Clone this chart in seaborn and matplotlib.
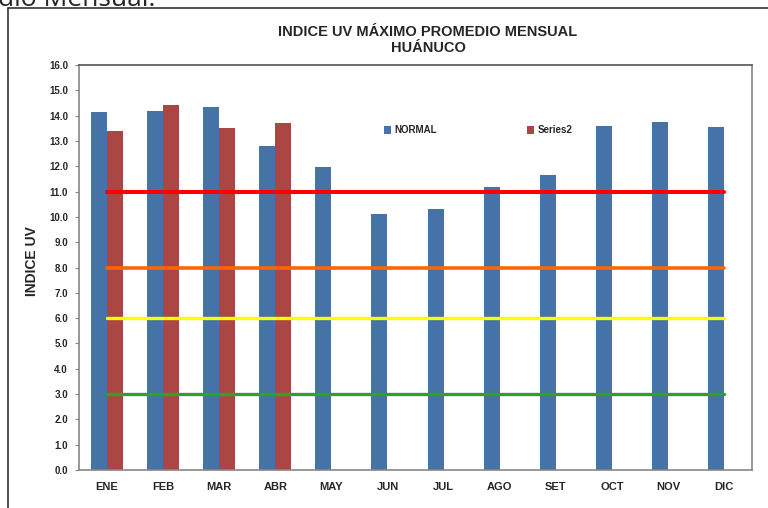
'''
Indice UV maximo promedio mensual - Huanuco
bar chart of the normal monthly UV index against the current year, with risk level lines
'''
import numpy as np
import pandas as pd
import matplotlib.pyplot as plt
from matplotlib.lines import Line2D
import seaborn as sns

months = ['ENE', 'FEB', 'MAR', 'ABR', 'MAY', 'JUN', 'JUL', 'AGO', 'SET', 'OCT', 'NOV', 'DIC']
normal = [14.14, 14.2, 14.35, 12.79, 11.96, 10.1, 10.3, 11.19, 11.65, 13.58, 13.73, 13.55]
series2 = [13.4, 14.41, 13.5, 13.7, np.nan, np.nan, np.nan, np.nan, np.nan, np.nan, np.nan, np.nan]

# risk thresholds drawn as flat lines across the months
levels = [11.0, 8.0, 6.0, 3.0]
level_colors = ['#FF0000', '#FF6600', '#FFFF00', '#33A02C']
level_widths = [2.9, 2.6, 2.4, 2.4]

yticks = np.arange(0, 17, 1)

sns.set_style('white')
plt.rcParams['font.family'] = ['Liberation Sans', 'DejaVu Sans']

'''
long table for seaborn
'''
df = pd.DataFrame({
    'mes': months * 2,
    'valor': normal + series2,
    'serie': ['NORMAL'] * 12 + ['Series2'] * 12,
})

fig = plt.figure(figsize=(7.68, 5.08), dpi=100)
ax = fig.add_axes([79 / 768, 1 - 470 / 508, 673 / 768, 405 / 508])

sns.barplot(data=df, x='mes', y='valor', hue='serie', order=months,
            hue_order=['NORMAL', 'Series2'], palette=['#4572A7', '#AA4643'],
            width=0.571, errorbar=None, saturation=1, linewidth=0, ax=ax)

x = np.arange(len(months))
for lvl, col, lw in zip(levels, level_colors, level_widths):
    sns.lineplot(x=x, y=[lvl] * len(x), color=col, linewidth=lw, ax=ax, zorder=5)

handles, labels = ax.get_legend_handles_labels()
ax.get_legend().remove()
ax.legend(handles[:2], labels[:2], ncol=2, frameon=False, loc='center left',
          bbox_to_anchor=(379 / 768, 1 - 130 / 508), bbox_transform=fig.transFigure,
          handlelength=0.75, handleheight=0.9, handletextpad=0.3, columnspacing=9.3,
          prop={'size': 7, 'weight': 'bold'}, borderpad=0)

ax.set_xlim(-0.5, 11.5)
ax.set_ylim(0, 16)
ax.set_yticks(yticks)
ax.set_yticklabels([f'{v:.1f}' for v in yticks], fontsize=7, fontweight='bold')
ax.set_xticks(x)
ax.set_xticklabels(months, fontsize=8, fontweight='bold')
ax.set_xticks(np.arange(-0.5, 12, 1), minor=True)
ax.tick_params(axis='x', which='major', length=0, pad=8.5)
ax.tick_params(axis='x', which='minor', length=4, direction='out', color='#868686')
ax.tick_params(axis='y', length=3, direction='out', color='#868686', pad=5, left=True)
ax.set_xlabel('')
ax.set_ylabel('INDICE UV', fontsize=10, fontweight='bold')
ax.yaxis.set_label_coords((39 - 79) / 673, 0.515)

for side in ['left', 'bottom', 'right']:
    ax.spines[side].set_color('#868686')
    ax.spines[side].set_linewidth(1.2)
ax.spines['top'].set_color('#555555')
ax.spines['top'].set_linewidth(1.2)

fig.text(428 / 768, 1 - 25 / 508, 'INDICE UV MÁXIMO PROMEDIO MENSUAL\nHUÁNUCO',
         ha='center', va='top', fontsize=10.5, fontweight='bold', linespacing=1.2)

'''
outer chart frame and the cropped caption above it
'''
fig.add_artist(Line2D([8 / 768, 8 / 768], [0, 1 - 8 / 508], transform=fig.transFigure,
                      color='#333333', linewidth=1.2))
fig.add_artist(Line2D([8 / 768, 1], [1 - 8 / 508, 1 - 8 / 508], transform=fig.transFigure,
                      color='#333333', linewidth=1.2))
fig.text(-2 / 768, 1 - 6 / 508, 'dio Mensual.', ha='left', va='baseline',
         fontsize=19, family='Open Sans')

fig.savefig('out.png', dpi=100)
